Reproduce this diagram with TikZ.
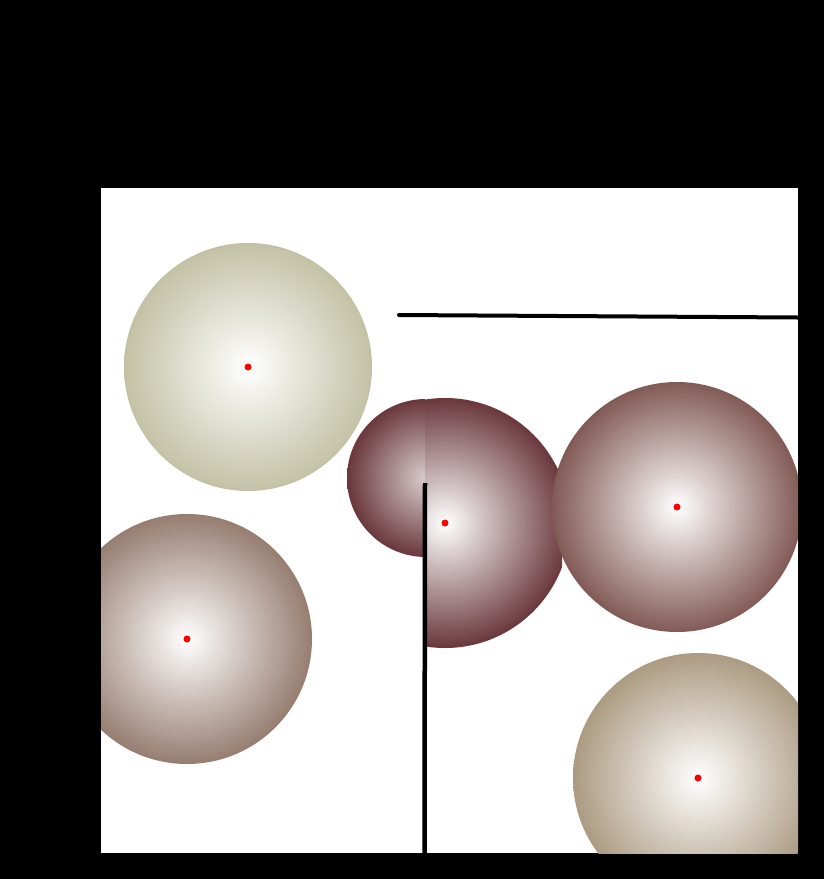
\documentclass[tikz,border=0pt]{standalone}
\begin{document}
\begin{tikzpicture}[x=1pt,y=-1pt,
  ctr/.style={fill=red,draw=none},
  wall/.style={draw=black,line width=4.5pt}]
\definecolor{cA}{RGB}{195,193,165}
\definecolor{cB}{RGB}{150,125,112}
\definecolor{cC}{RGB}{105,55,60}
\definecolor{cD}{RGB}{130,90,85}
\definecolor{cE}{RGB}{172,155,130}
\fill[black] (0,0) rectangle (824,879);
\useasboundingbox (0,0) rectangle (824,879);
\fill[white] (101,188) rectangle (798,853);
\begin{scope}
\clip (101,188) rectangle (798,853);
% top-left
\shade[inner color=white,outer color=cA] (248,367) circle (124);
% bottom-left
\shade[inner color=white,outer color=cB] (187,639) circle (125);
% middle, left lobe
\begin{scope}
\clip (300,380) rectangle (425,600);
\shade[inner color=cC!25!white,outer color=cC] (426,478) circle (79);
\end{scope}
% middle, right part
\begin{scope}
\clip (425,380) rectangle (562,660);
\shade[inner color=white,outer color=cC] (445,523) circle (125);
\end{scope}
% right
\shade[inner color=white,outer color=cD] (677,507) circle (125);
% bottom-right
\shade[inner color=white,outer color=cE] (698,778) circle (125);
% walls
\coordinate (h1) at (399,315);
\coordinate (h2) at (798,317.5);
\coordinate (v1) at (425,483);
\coordinate (v2) at (424.5,853);
\draw[wall,line width=4pt,line cap=round] (h1) -- (h2);
\draw[wall] (v1) -- (v2);
% centres
\foreach \p in {(248,367),(187,639),(445,523),(677,507),(698,778)}
  \fill[ctr] \p circle (3.5);
\end{scope}
\end{tikzpicture}
\end{document}
